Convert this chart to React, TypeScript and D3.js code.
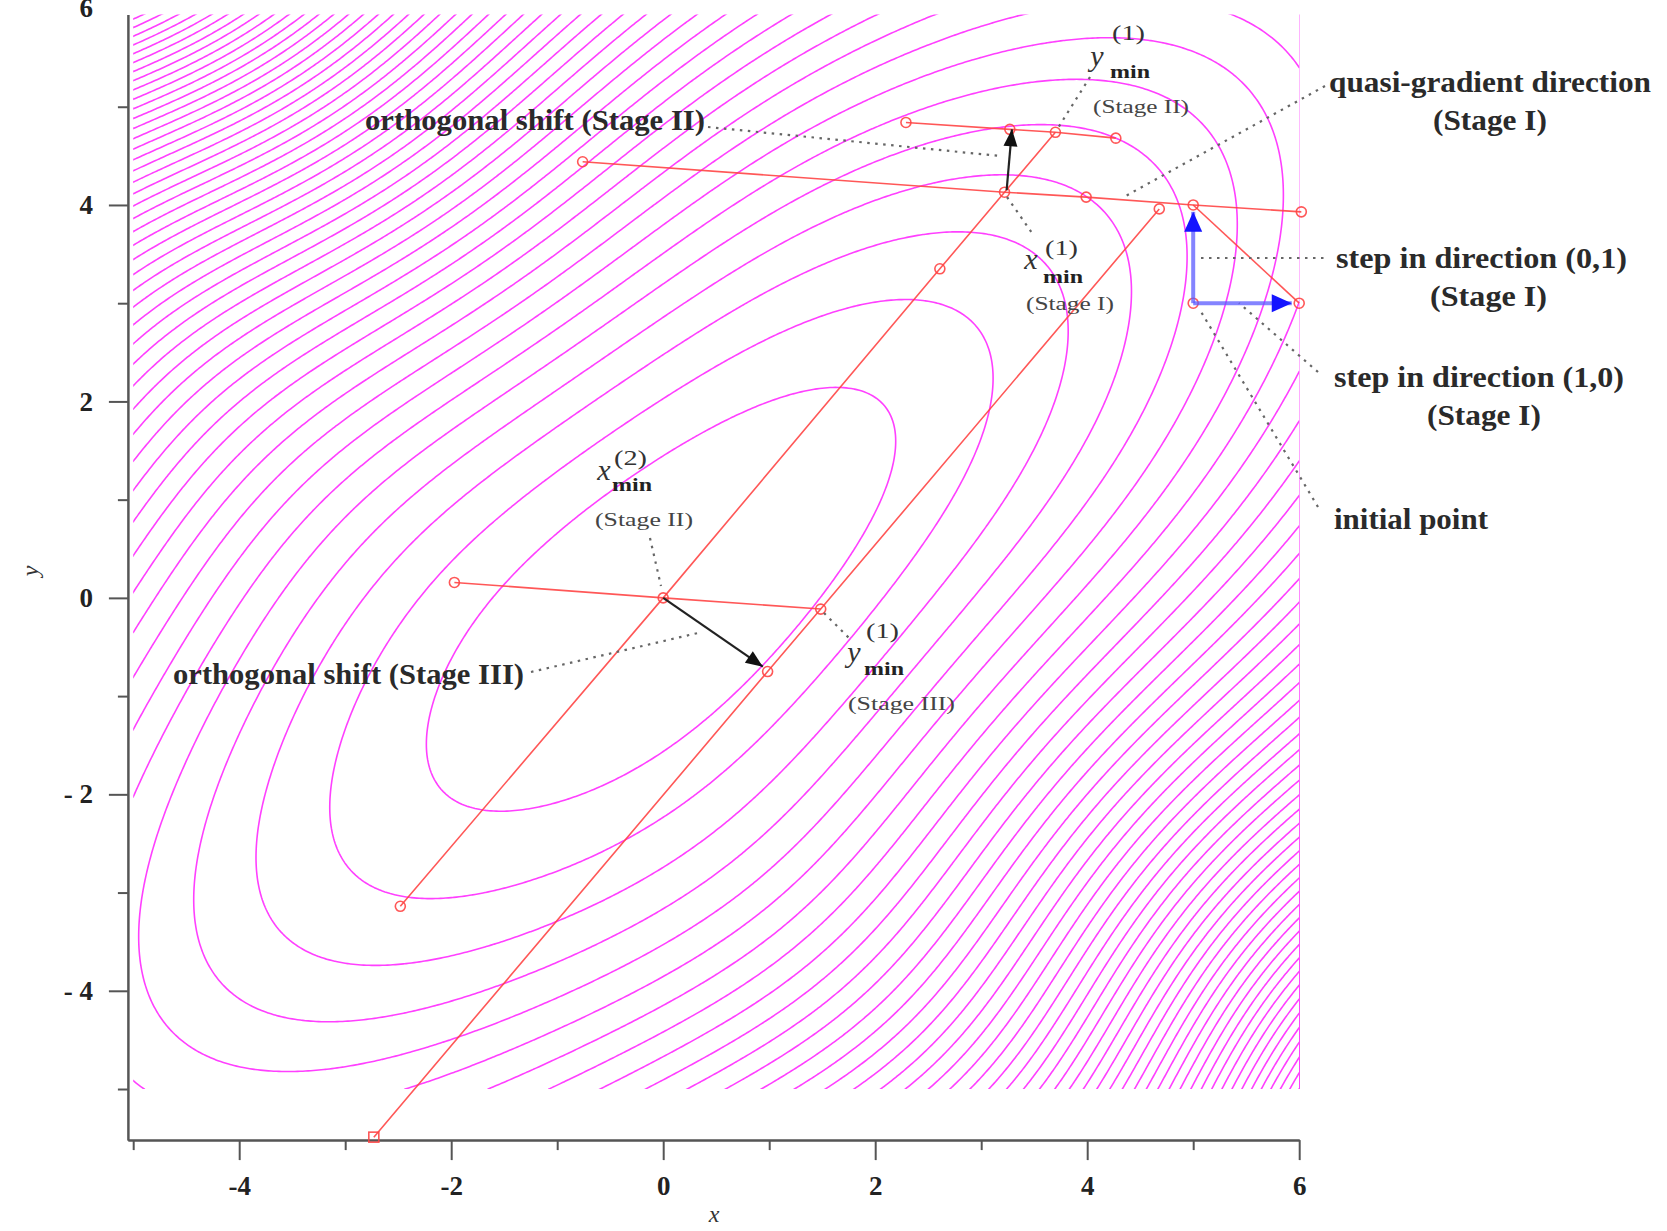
import { useEffect, useRef } from 'react';
import * as d3 from 'd3';

const WIDTH = 1667;
const HEIGHT = 1231;
const FONT = "'Liberation Serif', 'Times New Roman', Times, serif";

// objective: quadratic bowl A x^2 + 2B xy + C y^2 with a local skew across the valley
const FA = 0.95;
const FB = -0.7;
const FC = 1.0;
const SKEW = 0.06;       // weight of (x+y)(x-y)^2
const SKEW_WIDTH = 4;    // decay of the skew along the valley
const LEVEL_STEP = 2.25;
const LEVELS = d3.range(1, 70).map(n => n * LEVEL_STEP);

// axes
const X_DOMAIN = [-5.05, 6];
const Y_DOMAIN = [-5.52, 5.94];
const xMinorTicks = [-5, -3, -1, 1, 3, 5];
const xMajorTicks = [-4, -2, 0, 2, 4, 6];
const yMinorTicks = [-5, -3, -1, 1, 3, 5];
const yMajorTicks = [-4, -2, 0, 2, 4];

// search paths (x, y)
const lineStage1a = [[-2.48, -3.14], [0, 0], [2.61, 3.35], [3.22, 4.13], [3.70, 4.74]];
const lineStage1b = [[-2.73, -5.49], [0.985, -0.75], [1.486, -0.114], [4.68, 3.96]];
const quasiGradLine = [[6.02, 3.93], [5, 4], [3.99, 4.08], [3.22, 4.13], [-0.76, 4.44]];
const shiftLine2 = [[2.29, 4.84], [3.27, 4.77], [3.70, 4.74], [4.27, 4.68]];
const shiftLine3 = [[-1.97, 0.157], [0, 0], [1.486, -0.114]];
const firstSteps = [[6, 3], [5, 4]];
const markers = [
  [5, 3], [6, 3], [5, 4], [6.02, 3.93], [3.99, 4.08], [3.22, 4.13], [-0.76, 4.44],
  [4.68, 3.96], [2.29, 4.84], [3.27, 4.77], [3.70, 4.74], [4.27, 4.68],
  [2.61, 3.35], [0, 0], [-2.48, -3.14], [-1.97, 0.157], [1.486, -0.114], [0.985, -0.75],
];
const squareMarker = [-2.73, -5.49];

// arrows [from, to]
const blackArrows = [
  [[3.24, 4.15], [3.29, 4.77]],
  [[0, 0], [0.94, -0.70]],
];
const blueArrows = [
  [[5, 3], [5, 3.93]],
  [[5, 3], [5.93, 3]],
];

function f(x: number, y: number) {
  const s = x + y;
  const u = x - y;
  const skew = SKEW * s * u * u * Math.exp(-(s * s) / (SKEW_WIDTH * SKEW_WIDTH));
  return FA * x * x + 2 * FB * x * y + FC * y * y + skew;
}

function arrowHead(x1: number, y1: number, x2: number, y2: number, len: number, half: number) {
  const dx = x2 - x1, dy = y2 - y1;
  const d = Math.hypot(dx, dy);
  const ux = dx / d, uy = dy / d;
  const bx = x2 - ux * len, by = y2 - uy * len;
  return `${x2},${y2} ${bx - uy * half},${by + ux * half} ${bx + uy * half},${by - ux * half}`;
}

export default function App() {
  const svgRef = useRef<SVGSVGElement>(null);

  useEffect(() => {
    const svg = d3.select(svgRef.current);
    svg.selectAll('*').remove();

    const x = d3.scaleLinear().domain(X_DOMAIN).range([127.9, 1299.2]);
    const y = d3.scaleLinear().domain(Y_DOMAIN).range([1140.1, 14.4]);

    // contour grid
    const step = 0.025;
    const gx0 = -5, gx1 = 6, gy0 = -5, gy1 = 5.975;
    const nx = Math.round((gx1 - gx0) / step) + 1;
    const ny = Math.round((gy1 - gy0) / step) + 1;
    const values: number[] = new Array(nx * ny);
    for (let j = 0; j < ny; j++) {
      const yy = gy1 - j * step;
      for (let i = 0; i < nx; i++) {
        values[j * nx + i] = f(gx0 + i * step, yy);
      }
    }
    const contours = d3.contours().size([nx, ny]).thresholds(LEVELS)(values);
    const proj = d3.geoTransform({
      point(px: number, py: number) {
        this.stream.point(x(gx0 + (px - 0.5) * step), y(gy1 - (py - 0.5) * step));
      },
    });
    const path = d3.geoPath(proj as any);

    svg.append('defs').append('clipPath').attr('id', 'plotClip')
      .append('rect')
      .attr('x', x(-5)).attr('y', y(5.94))
      .attr('width', x(6) - x(-5)).attr('height', y(-5) - y(5.94));

    svg.append('g')
      .attr('clip-path', 'url(#plotClip)')
      .selectAll('path')
      .data(contours)
      .join('path')
      .attr('d', d => path(d as any))
      .attr('fill', 'none')
      .attr('stroke', '#ff40ff')
      .attr('stroke-width', 1.6);

    // axes
    const styleAxis = (g: any) => {
      g.select('.domain').attr('stroke', '#555').attr('stroke-width', 2);
      g.selectAll('.tick line').attr('stroke', '#555').attr('stroke-width', 2);
      g.selectAll('.tick text')
        .attr('font-family', FONT)
        .attr('font-size', 27)
        .attr('font-weight', 'bold')
        .attr('fill', '#222');
    };

    const xAxisY = y(Y_DOMAIN[0]);
    svg.append('g').attr('transform', `translate(0,${xAxisY})`)
      .call(d3.axisBottom(x).tickValues(xMinorTicks).tickSize(10).tickSizeOuter(0).tickFormat(() => ''))
      .call(styleAxis);
    svg.append('g').attr('transform', `translate(0,${xAxisY})`)
      .call(d3.axisBottom(x).tickValues(xMajorTicks).tickSize(20).tickSizeOuter(0).tickPadding(16)
        .tickFormat((d: any) => (d < 0 ? `-${-d}` : `${d}`)))
      .call(styleAxis);

    const yAxisX = x(X_DOMAIN[0]);
    svg.append('g').attr('transform', `translate(${yAxisX},0)`)
      .call(d3.axisLeft(y).tickValues(yMinorTicks).tickSize(10).tickSizeOuter(0).tickFormat(() => ''))
      .call(styleAxis);
    svg.append('g').attr('transform', `translate(${yAxisX},0)`)
      .call(d3.axisLeft(y).tickValues(yMajorTicks).tickSize(19).tickSizeOuter(0).tickPadding(16)
        .tickFormat((d: any) => (d < 0 ? `- ${-d}` : `${d}`)))
      .call(styleAxis);

    // top label, partly cut by the frame as in the source figure
    svg.append('text')
      .attr('x', yAxisX - 35).attr('y', y(6) - 1)
      .attr('text-anchor', 'end').attr('dominant-baseline', 'central')
      .attr('font-family', FONT).attr('font-size', 27).attr('font-weight', 'bold').attr('fill', '#222')
      .text('6');

    svg.append('text')
      .attr('x', 714).attr('y', 1214)
      .attr('text-anchor', 'middle').attr('dominant-baseline', 'central')
      .attr('font-family', FONT).attr('font-size', 24).attr('font-style', 'italic').attr('fill', '#333')
      .text('x');
    svg.append('text')
      .attr('transform', `translate(30,571) rotate(-90)`)
      .attr('text-anchor', 'middle').attr('dominant-baseline', 'central')
      .attr('font-family', FONT).attr('font-size', 24).attr('font-style', 'italic').attr('fill', '#333')
      .text('y');

    // search lines
    const line = d3.line<number[]>().x(d => x(d[0])).y(d => y(d[1]));
    const red = svg.append('g')
      .attr('fill', 'none').attr('stroke', '#ff4545').attr('stroke-width', 1.6).attr('stroke-opacity', 0.9);
    [lineStage1a, lineStage1b, quasiGradLine, shiftLine2, shiftLine3, firstSteps].forEach(p => {
      red.append('path').attr('d', line(p));
    });
    red.selectAll('circle')
      .data(markers)
      .join('circle')
      .attr('cx', d => x(d[0]))
      .attr('cy', d => y(d[1]))
      .attr('r', 5);
    red.append('rect')
      .attr('x', x(squareMarker[0]) - 5).attr('y', y(squareMarker[1]) - 5)
      .attr('width', 10).attr('height', 10);

    // dotted leaders
    const leaders = [
      [708, 127, 1000, 156],
      [1325, 86, 1122, 198],
      [1201, 258, 1329, 258],
      [1318, 372, 1239, 303],
      [1318, 507, 1200, 310],
      [1090, 77, 1058, 128],
      [1007, 197, 1032, 233],
      [650, 538, 661, 586],
      [824, 613, 851, 640],
      [531, 672, 698, 633],
    ];
    svg.append('g')
      .selectAll('line')
      .data(leaders)
      .join('line')
      .attr('x1', d => d[0]).attr('y1', d => d[1])
      .attr('x2', d => d[2]).attr('y2', d => d[3])
      .attr('stroke', '#666').attr('stroke-width', 2.2)
      .attr('stroke-dasharray', '2.5 5.5');

    // arrows
    blueArrows.forEach(([a, b]) => {
      const x1 = x(a[0]), y1 = y(a[1]), x2 = x(b[0]), y2 = y(b[1]);
      svg.append('line')
        .attr('x1', x1).attr('y1', y1).attr('x2', x2).attr('y2', y2)
        .attr('stroke', '#5b5bff').attr('stroke-opacity', 0.75).attr('stroke-width', 4);
      svg.append('polygon')
        .attr('points', arrowHead(x1, y1, x2, y2, 20, 9))
        .attr('fill', '#1414ff');
    });
    blackArrows.forEach(([a, b]) => {
      const x1 = x(a[0]), y1 = y(a[1]), x2 = x(b[0]), y2 = y(b[1]);
      svg.append('line')
        .attr('x1', x1).attr('y1', y1).attr('x2', x2).attr('y2', y2)
        .attr('stroke', '#222').attr('stroke-width', 2.2);
      svg.append('polygon')
        .attr('points', arrowHead(x1, y1, x2, y2, 17, 7))
        .attr('fill', '#111');
    });

    // annotation text
    const addText = (text: string, tx: number, ty: number, size: number, opts: any = {}) => {
      const t = svg.append('text')
        .attr('x', tx).attr('y', ty)
        .attr('text-anchor', opts.anchor || 'start')
        .attr('dominant-baseline', 'central')
        .attr('font-family', FONT)
        .attr('font-size', size)
        .attr('font-weight', opts.weight || 'normal')
        .attr('font-style', opts.style || 'normal')
        .attr('fill', opts.fill || '#222')
        .text(text);
      if (opts.length) t.attr('textLength', opts.length).attr('lengthAdjust', 'spacingAndGlyphs');
    };

    const big = { weight: 'bold', fill: '#2a2a2a' };
    addText('orthogonal shift (Stage II)', 365, 120, 29, { ...big, length: 340 });
    addText('orthogonal shift (Stage III)', 173, 674, 29, { ...big, length: 351 });
    addText('quasi-gradient direction', 1329, 82, 29, { ...big, length: 322 });
    addText('(Stage I)', 1433, 120, 29, { ...big, length: 114 });
    addText('step in direction (0,1)', 1336, 258, 29, { ...big, length: 291 });
    addText('(Stage I)', 1430, 296, 29, { ...big, length: 117 });
    addText('step in direction (1,0)', 1334, 377, 29, { ...big, length: 290 });
    addText('(Stage I)', 1427, 415, 29, { ...big, length: 114 });
    addText('initial point', 1334, 519, 29, { ...big, length: 154 });

    const small = { fill: '#444' };
    addText('(Stage II)', 1093, 106, 19, { ...small, length: 96 });
    addText('(Stage I)', 1026, 303, 19, { ...small, length: 88 });
    addText('(Stage II)', 595, 519, 19, { ...small, length: 98 });
    addText('(Stage III)', 848, 703, 19, { ...small, length: 107 });

    const sym = (v: string, sup: string, vx: number, vy: number, sx: number, supY: number, subY: number) => {
      addText(v, vx, vy, 30, { style: 'italic', anchor: 'middle', fill: '#333' });
      addText(sup, sx, supY, 22, { fill: '#333', length: 33 });
      addText('min', sx - 2, subY, 19, { weight: 'bold', fill: '#222', length: 40 });
    };
    sym('y', '(1)', 1097, 55, 1112, 32, 71);
    sym('x', '(1)', 1031, 258, 1045, 247, 276);
    sym('x', '(2)', 604, 469, 614, 457, 484);
    sym('y', '(1)', 854, 651, 866, 630, 668);
  }, []);

  return (
    <svg
      ref={svgRef}
      width={WIDTH}
      height={HEIGHT}
      style={{ position: 'absolute', left: 0, top: 0, background: '#fff' }}
    />
  );
}
